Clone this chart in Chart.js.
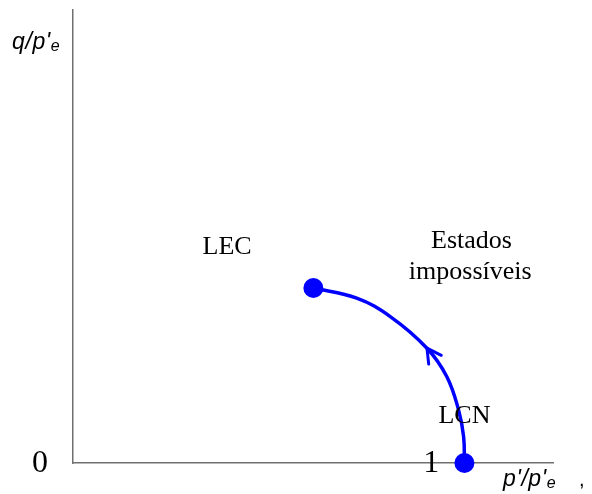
<!DOCTYPE html>
<html>
<head>
<meta charset="utf-8">
<script src="https://cdn.jsdelivr.net/npm/chart.js@4/dist/chart.umd.min.js"></script>
<style>
  html, body { margin: 0; padding: 0; background: #fff; }
  #wrap { width: 592px; height: 494px; }
</style>
</head>
<body>
<div id="wrap"><canvas id="c" width="592" height="494"></canvas></div>
<script>
// Path of the state from (1, 0) up to the end point, in p'/p'e and q/p'e units
const pathX = [0.616, 0.727, 0.813, 0.907, 0.958, 0.988, 1.001, 1.003];
const pathY = [0.448, 0.422, 0.375, 0.294, 0.221, 0.136, 0.067, 0.000];
// index of the point where the direction arrow sits
const arrowAt = 3;

// Region labels (data coordinates: text centre x, baseline y)
const labelText = ['LEC', 'Estados', 'impossíveis', 'LCN'];
const labelX    = [0.395, 1.021, 1.018, 1.003];
const labelY    = [0.536, 0.550, 0.471, 0.102];

// Axis tick labels
const tickText = ['0', '1'];

const BLUE = '#0000ff';

const pts = pathX.map((x, i) => ({ x: x, y: pathY[i] }));
const radii = pts.map((p, i) => (i === 0 || i === pts.length - 1) ? 10 : 0);

const annotations = {
  id: 'annotations',
  afterDatasetsDraw(chart) {
    const ctx = chart.ctx;
    const xs = chart.scales.x, ys = chart.scales.y;
    ctx.save();

    // direction arrow (open chevron) along the path
    const meta = chart.getDatasetMeta(0);
    const tip = meta.data[arrowAt];
    const next = meta.data[arrowAt + 1];
    const back = Math.atan2(next.y - tip.y, next.x - tip.x);
    const arm = 16, spread = 0.5;
    ctx.strokeStyle = BLUE;
    ctx.lineWidth = 3;
    ctx.lineCap = 'round';
    ctx.lineJoin = 'round';
    ctx.beginPath();
    ctx.moveTo(tip.x + arm * Math.cos(back + spread), tip.y + arm * Math.sin(back + spread));
    ctx.lineTo(tip.x, tip.y);
    ctx.lineTo(tip.x + arm * Math.cos(back - spread), tip.y + arm * Math.sin(back - spread));
    ctx.stroke();

    // region labels
    ctx.fillStyle = '#000';
    ctx.font = '26px "Liberation Serif", "Times New Roman", serif';
    ctx.textAlign = 'center';
    ctx.textBaseline = 'alphabetic';
    labelText.forEach((t, i) => {
      ctx.fillText(t, xs.getPixelForValue(labelX[i]), ys.getPixelForValue(labelY[i]));
    });

    // tick labels 0 and 1
    ctx.font = '32px "Liberation Serif", "Times New Roman", serif';
    ctx.fillText(tickText[0], xs.left - 33, ys.bottom + 9);
    ctx.fillText(tickText[1], xs.getPixelForValue(1) - 32, ys.bottom + 9);

    // axis titles with subscript e
    const drawTitle = (main, sub, x, y) => {
      ctx.textAlign = 'left';
      ctx.textBaseline = 'alphabetic';
      ctx.letterSpacing = '0.6px';
      ctx.font = 'italic 23px "Liberation Sans", Arial, sans-serif';
      ctx.fillText(main, x, y);
      const w = ctx.measureText(main).width;
      ctx.font = 'italic 16px "Liberation Sans", Arial, sans-serif';
      ctx.fillText(sub, x + w, y + 2);
      ctx.letterSpacing = '0px';
    };
    drawTitle("q/p'", 'e', 12, 49);
    drawTitle("p'/p'", 'e', 503, 486);
    ctx.font = '20px "Liberation Sans", Arial, sans-serif';
    ctx.fillText(',', 579, 486);

    ctx.restore();
  }
};

new Chart(document.getElementById('c'), {
  type: 'scatter',
  data: {
    datasets: [{
      data: pts,
      showLine: true,
      clip: false,
      borderColor: BLUE,
      borderWidth: 3.5,
      tension: 0.4,
      pointRadius: radii,
      pointHoverRadius: radii,
      pointBackgroundColor: BLUE,
      pointBorderColor: BLUE,
      pointBorderWidth: 0,
      fill: false
    }]
  },
  options: {
    responsive: false,
    animation: false,
    events: [],
    layout: { padding: { left: 73, right: 39, top: 10, bottom: 31 } },
    plugins: { legend: { display: false }, tooltip: { enabled: false } },
    scales: {
      x: {
        type: 'linear', min: 0, max: 1.23,
        grid: { display: false, drawTicks: false },
        border: { display: true, color: '#707070', width: 1.5 },
        ticks: { display: false }
      },
      y: {
        type: 'linear', min: 0, max: 1.16,
        grid: { display: false, drawTicks: false },
        border: { display: true, color: '#707070', width: 1.5 },
        ticks: { display: false }
      }
    }
  },
  plugins: [annotations]
});
</script>
</body>
</html>
